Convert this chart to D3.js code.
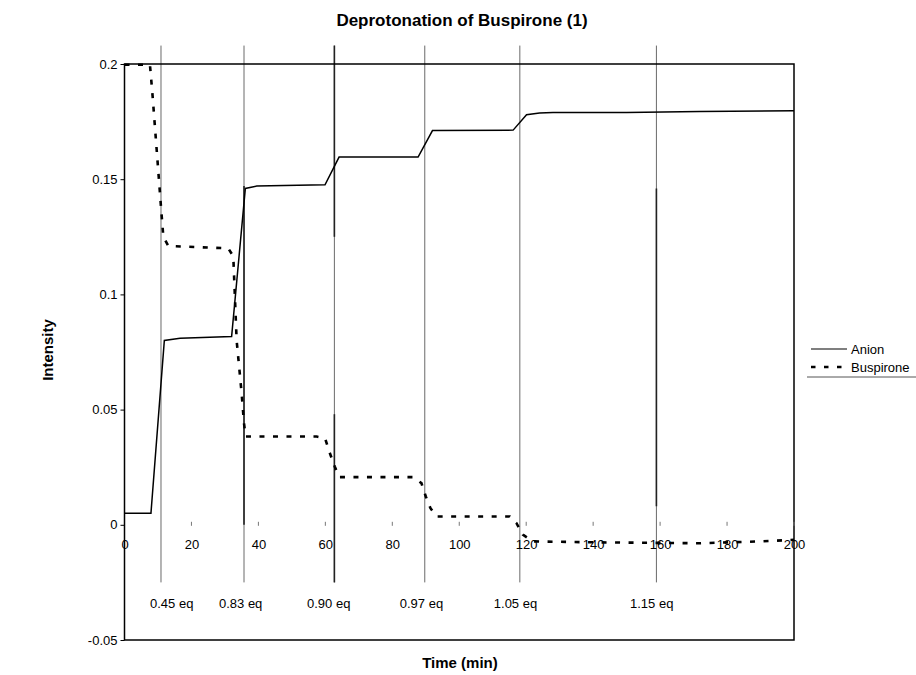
<!DOCTYPE html>
<html>
<head>
<meta charset="utf-8">
<script src="https://cdn.jsdelivr.net/npm/d3@7"></script>
<style>
body { margin: 0; background: #fff; }
svg text { font-family: "Liberation Sans", Arial, sans-serif; }
</style>
</head>
<body>
<div id="chart"></div>
<script>
// readings
const anionTime = [0, 7.9, 11.9, 16.6, 32, 36.1, 39.5, 59.9, 64.1, 87.7, 92, 116.1, 120.1, 124, 128, 150, 171.8, 200];
const anionValue = [0.005, 0.005, 0.080, 0.081, 0.0817, 0.146, 0.147, 0.1476, 0.1596, 0.1596, 0.1711, 0.1713, 0.178, 0.1787, 0.179, 0.179, 0.1794, 0.1797];

const busTime = [0, 7.6, 8.4, 9.6, 10.9, 11.6, 13.1, 31, 32.5, 33.5, 35, 35.7, 36.2, 57.4, 59.9, 61.3, 62.8, 64.1, 86.2, 88.7, 90, 91.4, 93.2, 115.1, 117.1, 119, 122, 140, 171.8, 190, 200];
const busValue = [0.1997, 0.1997, 0.186, 0.163, 0.138, 0.125, 0.121, 0.120, 0.1165, 0.080, 0.057, 0.044, 0.0383, 0.0383, 0.0376, 0.0313, 0.0253, 0.0207, 0.0207, 0.0181, 0.0123, 0.0072, 0.0036, 0.0036, 0.0007, -0.0043, -0.0072, -0.0076, -0.008, -0.0072, -0.0065];

// additions of base (equivalents)
const eventTime = [10.9, 35.7, 62.7, 89.7, 118.1, 158.9];
const eventLabels = ["0.45 eq", "0.83 eq", "0.90 eq", "0.97 eq", "1.05 eq", "1.15 eq"];
const labelTime = [14.1, 34.7, 61.0, 88.7, 116.8, 157.5];
const eventRange = [0.208, -0.025];

// darker bits on the marker lines
const darkTime = [35.7, 62.7, 62.7, 158.9];
const darkTop = [0.147, 0.208, 0.048, 0.146];
const darkBottom = [0.0, 0.125, -0.025, 0.008];

const xTicks = [0, 20, 40, 60, 80, 100, 120, 140, 160, 180, 200];
const yTicks = [0.2, 0.15, 0.1, 0.05, 0, -0.05];
const yTickLabels = ["0.2", "0.15", "0.1", "0.05", "0", "-0.05"];

const seriesNames = ["Anion", "Buspirone"];

const width = 916, height = 675;
const svg = d3.select("#chart").append("svg")
    .attr("width", width)
    .attr("height", height);

const x = d3.scaleLinear().domain([0, 200]).range([124.5, 794]);
const y = d3.scaleLinear().domain([-0.05, 0.2]).range([640, 64]);

// title
svg.append("text")
    .attr("x", 462).attr("y", 26)
    .attr("text-anchor", "middle")
    .attr("font-size", 17).attr("font-weight", "bold")
    .text("Deprotonation of Buspirone (1)");

// marker lines
svg.append("g").selectAll("line")
    .data(eventTime)
    .join("line")
    .attr("x1", d => x(d)).attr("x2", d => x(d))
    .attr("y1", y(eventRange[0])).attr("y2", y(eventRange[1]))
    .attr("stroke", "#6a6a6a").attr("stroke-width", 1);

svg.append("g").selectAll("line")
    .data(darkTime)
    .join("line")
    .attr("x1", d => x(d)).attr("x2", d => x(d))
    .attr("y1", (d, i) => y(darkTop[i])).attr("y2", (d, i) => y(darkBottom[i]))
    .attr("stroke", "#222").attr("stroke-width", 1.6);

svg.append("g").selectAll("text")
    .data(eventLabels)
    .join("text")
    .attr("x", (d, i) => x(labelTime[i]))
    .attr("y", 608)
    .attr("text-anchor", "middle")
    .attr("font-size", 13)
    .text(d => d);

// frame
svg.append("rect")
    .attr("x", x(0)).attr("y", y(0.2))
    .attr("width", x(200) - x(0)).attr("height", y(-0.05) - y(0.2))
    .attr("fill", "none").attr("stroke", "#000").attr("stroke-width", 1.5);

// y axis
const yAxis = svg.append("g")
    .attr("transform", `translate(${x(0)},0)`)
    .call(d3.axisLeft(y).tickValues(yTicks).tickSize(4).tickPadding(3)
        .tickFormat((d, i) => yTickLabels[i]));
yAxis.select(".domain").remove();
yAxis.selectAll("text").attr("font-size", 13).attr("font-family", "Liberation Sans, Arial, sans-serif");

// x axis on zero line
const xAxis = svg.append("g")
    .attr("transform", `translate(0,${y(0)})`)
    .call(d3.axisBottom(x).tickValues(xTicks).tickSize(0).tickPadding(15));
xAxis.select(".domain").remove();
xAxis.selectAll("text").attr("font-size", 13).attr("font-family", "Liberation Sans, Arial, sans-serif");

svg.append("g").selectAll("line")
    .data(xTicks.slice(1))
    .join("line")
    .attr("x1", d => x(d)).attr("x2", d => x(d))
    .attr("y1", y(0) - 3).attr("y2", y(0) + 1)
    .attr("stroke", "#777").attr("stroke-width", 1);

// series
const line = d3.line()
    .x(d => x(d[0]))
    .y(d => y(d[1]));

svg.append("path")
    .datum(busTime.map((t, i) => [t, busValue[i]]))
    .attr("fill", "none")
    .attr("stroke", "#000")
    .attr("stroke-width", 2.6)
    .attr("stroke-dasharray", "5,8.5")
    .attr("d", line);

svg.append("path")
    .datum(anionTime.map((t, i) => [t, anionValue[i]]))
    .attr("fill", "none")
    .attr("stroke", "#000")
    .attr("stroke-width", 1.5)
    .attr("d", line);

// axis titles
svg.append("text")
    .attr("x", 460).attr("y", 668)
    .attr("text-anchor", "middle")
    .attr("font-size", 15).attr("font-weight", "bold")
    .text("Time (min)");

svg.append("text")
    .attr("transform", "translate(53,350) rotate(-90)")
    .attr("text-anchor", "middle")
    .attr("font-size", 15).attr("font-weight", "bold")
    .text("Intensity");

// legend
const legend = svg.append("g");
seriesNames.forEach((name, i) => {
    const ly = 349 + i * 18;
    legend.append("line")
        .attr("x1", 811).attr("x2", 847)
        .attr("y1", ly).attr("y2", ly)
        .attr("stroke", "#000")
        .attr("stroke-width", i === 0 ? 1.2 : 2.6)
        .attr("stroke-dasharray", i === 0 ? null : "4.5,8.5");
    legend.append("text")
        .attr("x", 851).attr("y", ly + 4.5)
        .attr("font-size", 13)
        .text(name);
});
legend.append("line")
    .attr("x1", 807).attr("x2", 916)
    .attr("y1", 377).attr("y2", 377)
    .attr("stroke", "#555").attr("stroke-width", 1);
</script>
</body>
</html>
